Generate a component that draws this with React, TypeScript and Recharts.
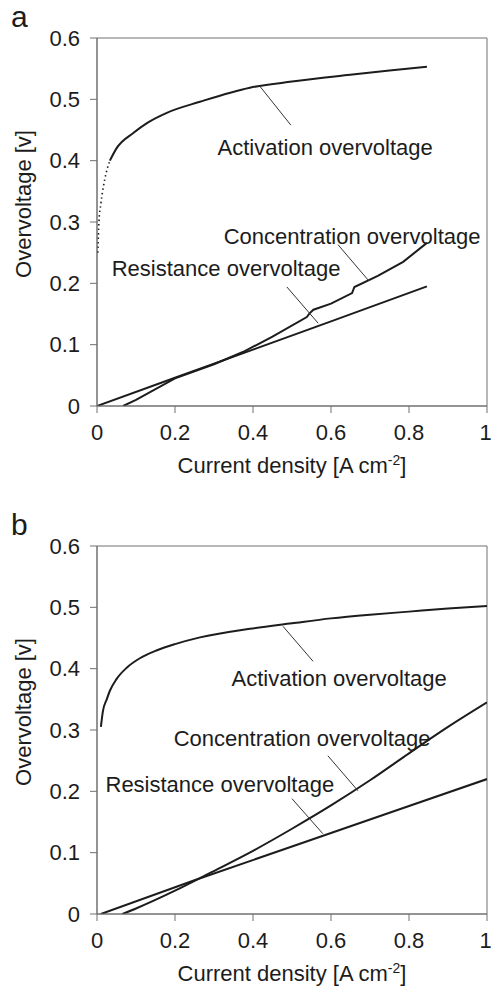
import React from "react";
import { LineChart, Line, XAxis, YAxis, ReferenceArea, ReferenceLine, ReferenceDot, Label } from "recharts";

const FONT = '"Liberation Sans", Arial, Helvetica, sans-serif';
const INK = "#1c1c1c";
const AXIS = "#707070";
const FS = 22;

const xTicks = [0, 0.2, 0.4, 0.6, 0.8, 1];
const yTicks = [0, 0.1, 0.2, 0.3, 0.4, 0.5, 0.6];

// panel a (measured curves, with the sparse dotted start of the activation curve)
const activationAStart = [
  [0.002, 0.25], [0.005, 0.3], [0.01, 0.33], [0.02, 0.37], [0.033, 0.4],
];
const activationA = [
  [0.033, 0.4], [0.05, 0.42], [0.093, 0.445], [0.13, 0.462], [0.179, 0.478],
  [0.264, 0.496], [0.392, 0.519], [0.5, 0.529], [0.649, 0.54], [0.75, 0.547], [0.846, 0.553],
];
const resistanceA = [[0, 0], [0.2, 0.046], [0.4, 0.092], [0.6, 0.138], [0.846, 0.195]];
const concentrationA = [
  [0.067, 0], [0.1, 0.01], [0.2, 0.045], [0.3, 0.068], [0.374, 0.088], [0.45, 0.113],
  [0.538, 0.145], [0.545, 0.151], [0.555, 0.157], [0.6, 0.167], [0.654, 0.184],
  [0.66, 0.194], [0.72, 0.212], [0.785, 0.235], [0.846, 0.266],
];

// panel b (model curves)
const activationB = [
  [0.01, 0.305], [0.015, 0.33], [0.025, 0.35], [0.033, 0.364], [0.05, 0.383],
  [0.077, 0.402], [0.11, 0.417], [0.154, 0.43], [0.2, 0.44], [0.264, 0.451],
  [0.392, 0.465], [0.5, 0.474], [0.6, 0.482], [0.7, 0.488], [0.8, 0.493], [0.9, 0.498], [1.0, 0.502],
];
const resistanceB = [[0.01, 0], [0.25, 0.055], [0.5, 0.11], [0.75, 0.165], [1.0, 0.22]];
const concentrationB = [
  [0.065, 0], [0.1, 0.009], [0.2, 0.038], [0.29, 0.067], [0.4, 0.103], [0.5, 0.139],
  [0.6, 0.177], [0.7, 0.218], [0.8, 0.262], [0.9, 0.305], [1.0, 0.345],
];

// callouts: text centre and leader line, in data units
const notesA = [
  { text: "Activation overvoltage", at: [0.585, 0.422], from: [0.418, 0.521], to: [0.497, 0.458] },
  { text: "Concentration overvoltage", at: [0.654, 0.277], from: [0.618, 0.263], to: [0.697, 0.204] },
  { text: "Resistance overvoltage", at: [0.331, 0.225], from: [0.487, 0.194], to: [0.567, 0.135] },
];
const notesB = [
  { text: "Activation overvoltage", at: [0.621, 0.384], from: [0.477, 0.469], to: [0.554, 0.412] },
  { text: "Concentration overvoltage", at: [0.526, 0.286], from: [0.592, 0.258], to: [0.669, 0.201] },
  { text: "Resistance overvoltage", at: [0.315, 0.212], from: [0.5, 0.188], to: [0.579, 0.131] },
];

const toPts = (arr: number[][]) => arr.map(([x, y]) => ({ x, y }));

const fmtX = (v: number) => (v === 0 || v === 1 ? String(v) : v.toFixed(1));
const fmtY = (v: number) => (v === 0 ? "0" : v.toFixed(1));

type Series = { key: string; data: number[][]; dotted?: boolean; smooth?: boolean };
type Note = { text: string; at: number[]; from: number[]; to: number[] };

function Panel({ series, notes, height, axisH }: { series: Series[]; notes: Note[]; height: number; axisH: number }) {
  const tick = { fill: INK, fontSize: FS, fontFamily: FONT };
  return (
    <LineChart width={491} height={height} margin={{ top: 38, right: 4, left: 0, bottom: 0 }}>
      <XAxis
        dataKey="x"
        type="number"
        domain={[0, 1]}
        ticks={xTicks}
        tickFormatter={fmtX}
        height={axisH}
        tickSize={7}
        tickMargin={11}
        stroke={AXIS}
        tick={tick}
        allowDataOverflow
      >
        <Label
          content={(p: any) => {
            const vb = p.viewBox || {};
            return (
              <text x={vb.x + vb.width / 2} y={vb.y + 67} textAnchor="middle" fill={INK} fontSize={FS} fontFamily={FONT}>
                Current density [A cm
                <tspan dy={-8} fontSize={14}>-2</tspan>
                <tspan dy={8}>]</tspan>
              </text>
            );
          }}
        />
      </XAxis>
      <YAxis
        type="number"
        domain={[0, 0.6]}
        ticks={yTicks}
        tickFormatter={fmtY}
        width={97}
        tickSize={7}
        tickMargin={10}
        stroke={AXIS}
        tick={tick}
        allowDataOverflow
      >
        <Label
          content={(p: any) => {
            const vb = p.viewBox || {};
            const cy = vb.y + vb.height / 2 - 18;
            return (
              <text
                x={23}
                y={cy}
                transform={`rotate(-90 23 ${cy})`}
                textAnchor="middle"
                dominantBaseline="central"
                fill={INK}
                fontSize={FS}
                fontFamily={FONT}
              >
                Overvoltage [v]
              </text>
            );
          }}
        />
      </YAxis>
      <ReferenceArea x1={0} x2={1} y1={0} y2={0.6} fill="none" stroke={AXIS} strokeWidth={1} />
      {series.map((s) => (
        <Line
          key={s.key}
          data={toPts(s.data)}
          dataKey="y"
          type={s.smooth ? "monotone" : "linear"}
          stroke={INK}
          strokeWidth={s.dotted ? 1.6 : 2}
          strokeDasharray={s.dotted ? "1.5 3" : undefined}
          dot={false}
          activeDot={false}
          isAnimationActive={false}
        />
      ))}
      {notes.map((n) => (
        <ReferenceLine
          key={"l" + n.text}
          segment={[{ x: n.from[0], y: n.from[1] }, { x: n.to[0], y: n.to[1] }]}
          stroke="#333"
          strokeWidth={1}
        />
      ))}
      {notes.map((n) => (
        <ReferenceDot
          key={"t" + n.text}
          x={n.at[0]}
          y={n.at[1]}
          r={0}
          fill="none"
          stroke="none"
          label={{ value: n.text, position: "center", fill: INK, fontSize: FS, fontFamily: FONT }}
        />
      ))}
    </LineChart>
  );
}

export default function App() {
  const letter = { position: "absolute" as const, left: 11, fontFamily: FONT, color: INK, fontSize: 30, lineHeight: "30px" };
  return (
    <div style={{ position: "absolute", left: 0, top: 0, width: 491, height: 987, background: "#fff", overflow: "hidden" }}>
      <div style={{ ...letter, top: 2 }}>a</div>
      <div style={{ ...letter, top: 510 }}>b</div>
      <div style={{ position: "absolute", left: 0, top: 0 }}>
        <Panel
          height={486}
          axisH={80}
          series={[
            { key: "actStart", data: activationAStart, dotted: true, smooth: true },
            { key: "act", data: activationA, smooth: true },
            { key: "res", data: resistanceA },
            { key: "conc", data: concentrationA },
          ]}
          notes={notesA}
        />
      </div>
      <div style={{ position: "absolute", left: 0, top: 508 }}>
        <Panel
          height={479}
          axisH={73}
          series={[
            { key: "act", data: activationB, smooth: true },
            { key: "res", data: resistanceB },
            { key: "conc", data: concentrationB, smooth: true },
          ]}
          notes={notesB}
        />
      </div>
    </div>
  );
}
